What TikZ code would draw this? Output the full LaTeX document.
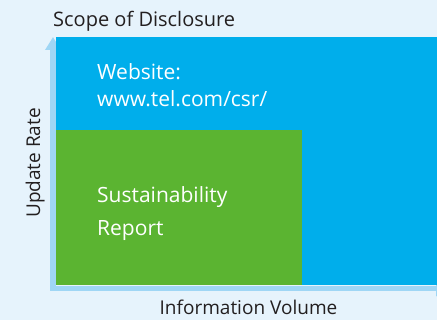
\documentclass[tikz,border=0pt]{standalone}
\usepackage{fontspec}
\setmainfont{Open Sans}
\usetikzlibrary{arrows.meta}
\definecolor{bgc}{HTML}{E6F3FC}
\definecolor{bluec}{HTML}{00AEEB}
\definecolor{greenc}{HTML}{5BB431}
\definecolor{axisc}{HTML}{9FD6F5}
\definecolor{txtc}{HTML}{231F20}
\tikzset{
  axisline/.style={draw=axisc, line width=5.5pt, -{Triangle[width=15pt,length=13pt]}},
  inner/.style={text=white, align=left, anchor=base west, inner sep=0pt},
  lbl/.style={text=txtc, font=\fontsize{19}{22}\selectfont, inner sep=0pt, anchor=base},
}
\begin{document}
\begin{tikzpicture}[x=1pt,y=-1pt]
\useasboundingbox (0,0) rectangle (437,320);
\fill[bgc] (0,0) rectangle (437,320);
\coordinate (o) at (53,288.5);
\coordinate (ytop) at (53,37);
\coordinate (xend) at (449,288.5);
\draw[axisline] (53,291) -- (ytop);
\draw[axisline] (50.5,288.5) -- (xend);
\fill[bluec] (56,37) rectangle (437,285.5);
\fill[greenc] (56,130) rectangle (302,285.5);
\node[inner, font=\fontsize{21}{27}\selectfont] (web) at (97,107) {Website:\\www.tel.com/csr/};
\node[inner, font=\fontsize{21}{33}\selectfont] (rep) at (97,236) {Sustainability\\Report};
\node[lbl, anchor=base west, font=\fontsize{20}{22}\selectfont] (title) at (53,27) {Scope of Disclosure};
\node[lbl, rotate=90] (yl) at (40,163) {Update Rate};
\node[lbl] (xl) at (248.5,315) {Information Volume};
\end{tikzpicture}
\end{document}
